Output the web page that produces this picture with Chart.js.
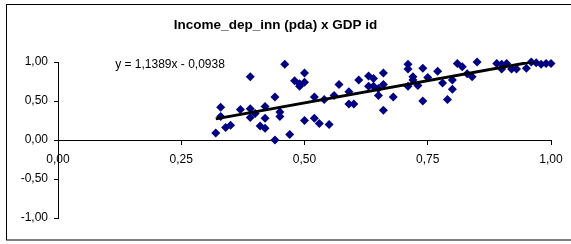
<!DOCTYPE html>
<html>
<head>
<meta charset="utf-8">
<script src="https://cdn.jsdelivr.net/npm/chart.js@4"></script>
<style>
  html, body { margin: 0; padding: 0; background: #fff; }
  #wrap { position: relative; width: 571px; height: 244px; }
</style>
</head>
<body>
<div id="wrap"><canvas id="chart" width="571" height="244"></canvas></div>
<script>
// GDP id (x) vs Income_dep_inn (pda) (y)
const xValues = [
  0.32, 0.33, 0.33, 0.34, 0.35, 0.37, 0.39, 0.39, 0.39, 0.40,
  0.41, 0.42, 0.42, 0.42, 0.44, 0.44, 0.45, 0.45, 0.46, 0.47,
  0.48, 0.49, 0.49, 0.50, 0.50, 0.50, 0.52, 0.52, 0.53, 0.54,
  0.55, 0.56, 0.57, 0.59, 0.59, 0.60, 0.61, 0.63, 0.63, 0.64,
  0.64, 0.65, 0.65, 0.66, 0.66, 0.66, 0.68, 0.71, 0.71, 0.71,
  0.72, 0.72, 0.73, 0.74, 0.74, 0.75, 0.77, 0.78, 0.79, 0.80,
  0.80, 0.81, 0.82, 0.83, 0.84, 0.85, 0.89, 0.90, 0.90, 0.91,
  0.92, 0.93, 0.95, 0.96, 0.97, 0.98, 0.99, 1.00
];
const yValues = [
  0.09, 0.42, 0.30, 0.16, 0.19, 0.39, 0.81, 0.40, 0.29, 0.34,
  0.18, 0.43, 0.28, 0.15, 0.55, 0.00, 0.36, 0.30, 0.97, 0.07,
  0.76, 0.72, 0.69, 0.86, 0.74, 0.25, 0.55, 0.28, 0.21, 0.52,
  0.20, 0.57, 0.71, 0.62, 0.46, 0.46, 0.77, 0.82, 0.69, 0.79,
  0.69, 0.66, 0.57, 0.86, 0.71, 0.38, 0.55, 0.97, 0.91, 0.69,
  0.81, 0.77, 0.70, 0.92, 0.50, 0.80, 0.88, 0.73, 0.52, 0.65,
  0.77, 0.98, 0.94, 0.85, 0.81, 1.00, 0.98, 0.91, 0.97, 0.98,
  0.91, 0.91, 0.92, 1.00, 0.99, 0.97, 0.98, 0.98
];

// linear trend as shown on the chart
const trendSlope = 1.1389;
const trendIntercept = -0.0938;

const xTicks = [0, 0.25, 0.5, 0.75, 1];
const yTicks = [-1, -0.5, 0, 0.5, 1];

const fmt = v => v.toFixed(2).replace('.', ',');
const points = xValues.map((x, i) => ({ x: x, y: yValues[i] }));
const xMin = Math.min(...xValues);
const xMax = Math.max(...xValues);
const trendPoints = [xMin, xMax].map(x => ({ x: x, y: trendSlope * x + trendIntercept }));
const eqText = 'y = ' + trendSlope.toFixed(4).replace('.', ',') + 'x ' +
  (trendIntercept < 0 ? '- ' : '+ ') + Math.abs(trendIntercept).toFixed(4).replace('.', ',');

const FONT = '"Liberation Sans", Arial, sans-serif';

// outer frame and trendline equation
const extras = {
  id: 'extras',
  afterDraw(chart) {
    const ctx = chart.ctx;
    ctx.save();
    ctx.strokeStyle = '#000';
    ctx.lineWidth = 1;
    ctx.strokeRect(6.5, 4.5, 570, 235.5);
    ctx.fillStyle = '#000';
    ctx.font = '12px ' + FONT;
    ctx.textAlign = 'center';
    ctx.textBaseline = 'middle';
    ctx.fillText(eqText, 170, 65);
    ctx.restore();
  }
};

new Chart(document.getElementById('chart'), {
  type: 'scatter',
  data: {
    datasets: [
      {
        label: 'Income_dep_inn (pda)',
        data: points,
        pointStyle: 'rectRot',
        pointRadius: 4.5,
        backgroundColor: '#000080',
        borderColor: '#000080',
        borderWidth: 0,
        clip: false,
        order: 2
      },
      {
        type: 'line',
        label: 'trend',
        data: trendPoints,
        borderColor: '#000',
        borderWidth: 3,
        pointRadius: 0,
        fill: false,
        order: 1
      }
    ]
  },
  options: {
    responsive: false,
    animation: false,
    events: [],
    layout: { padding: { left: 0, right: 20, top: 0, bottom: 26 } },
    plugins: {
      legend: { display: false },
      tooltip: { enabled: false },
      title: {
        display: true,
        text: 'Income_dep_inn (pda) x GDP id',
        color: '#000',
        font: { family: FONT, size: 13.5, weight: 'bold' },
        padding: { top: 17, bottom: 28.8 }
      }
    },
    scales: {
      x: {
        type: 'linear',
        min: 0,
        max: 1,
        position: { y: 0 },
        afterBuildTicks: s => { s.ticks = xTicks.map(v => ({ value: v })); },
        afterFit: s => { s.height = 0; s.paddingLeft = 0; s.paddingRight = 0; },
        grid: { display: true, drawOnChartArea: false, drawTicks: true, tickLength: 4, color: '#000' },
        border: { display: true, color: '#000', width: 1 },
        ticks: {
          color: '#000',
          padding: 8,
          maxRotation: 0,
          font: { family: FONT, size: 12 },
          callback: v => fmt(v)
        }
      },
      y: {
        type: 'linear',
        min: -1,
        max: 1,
        position: 'left',
        afterBuildTicks: s => { s.ticks = yTicks.map(v => ({ value: v })); },
        afterFit: s => { s.width = 58; s.paddingTop = 0; s.paddingBottom = 0; },
        grid: { display: true, drawOnChartArea: false, drawTicks: true, tickLength: 4, color: '#000' },
        border: { display: true, color: '#000', width: 1 },
        ticks: {
          color: '#000',
          padding: 6,
          font: { family: FONT, size: 12 },
          callback: v => fmt(v)
        }
      }
    }
  },
  plugins: [extras]
});
</script>
</body>
</html>
